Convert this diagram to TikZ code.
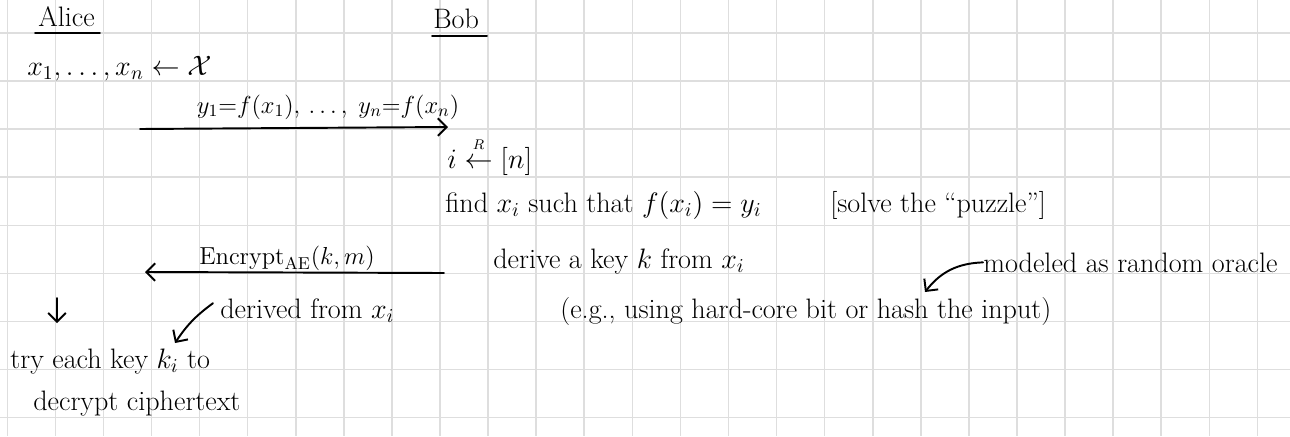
\RequirePackage{fix-cm}
\documentclass[tikz,border=0pt]{standalone}
\usetikzlibrary{arrows.meta}
\tikzset{
  gridline/.style={line width=0.9pt,black!13},
  ink/.style={line width=1.1pt,line cap=round},
  msg/.style={ink,-{Straight Barb[length=5pt,width=10pt]}},
  txt/.style={anchor=base west,inner sep=0pt,font=\fontsize{16}{19}\selectfont},
  lbl/.style={anchor=base,inner sep=0pt,font=\fontsize{14}{17}\selectfont},
}
\begin{document}
\begin{tikzpicture}[x=0.02cm,y=-0.02cm]
  \useasboundingbox (0,0) rectangle (1290,436);
  \fill[white] (0,0) rectangle (1290,436);
  \foreach \gx in {0,...,26}
    \draw[gridline] ({7.3+48.08*\gx},0) -- ++(0,436);
  \foreach \gy in {0,...,8}
    \draw[gridline] (0,{33+48.08*\gy}) -- ++(1290,0);

  \node[txt] (alice) at (38,27) {Alice};
  \draw[ink] (35,33) -- (100,33);
  \node[txt] (bob) at (433,29) {Bob};
  \draw[ink] (432,36) -- (487,36);

  \node[txt] (pick) at (27,75) {$x_1,\dots,x_n \leftarrow \mathcal{X}$};

  \coordinate (a1) at (140,129);
  \coordinate (b1) at (448,127);
  \draw[msg] (a1) -- (b1);
  \node[lbl] (puzzles) at (328,113) {$y_1{=}f(x_1),\,\dots,\;y_n{=}f(x_n)$};

  \node[txt] (choose) at (447,168) {$i \stackrel{\raisebox{2.5pt}{$\scriptscriptstyle R$}}{\leftarrow} [n]$};
  \node[txt] (find) at (445,212) {find $x_i$ such that $f(x_i)=y_i$};
  \node[txt] (solve) at (830,212) {[solve the ``puzzle'']};

  \coordinate (b2) at (444,273);
  \coordinate (a2) at (145,272);
  \draw[msg] (b2) -- (a2);
  \node[lbl] (ctext) at (287,264) {$\mathrm{Encrypt}_{\mathrm{AE}}(k,m)$};

  \node[txt] (derive) at (493,268) {derive a key $k$ from $x_i$};
  \node[txt] (oracle) at (983,272) {modeled as random oracle};
  \node[txt] (eg) at (560,318) {(e.g., using hard-core bit or hash the input)};
  \coordinate (hash) at (925,292);
  \draw[msg] (oracle.west) to[bend right=25] (hash);

  \coordinate (d1) at (57,298);
  \coordinate (d2) at (57,323);
  \draw[msg] (d1) -- (d2);
  \node[txt] (derived) at (220,318) {derived from $x_i$};
  \coordinate (key) at (175,343);
  \draw[msg] ([xshift=-4pt,yshift=4pt]derived.west) to[bend right=10] (key);

  \node[txt] (try) at (10,368) {try each key $k_i$ to};
  \node[txt] (decrypt) at (33,410) {decrypt ciphertext};
\end{tikzpicture}
\end{document}
